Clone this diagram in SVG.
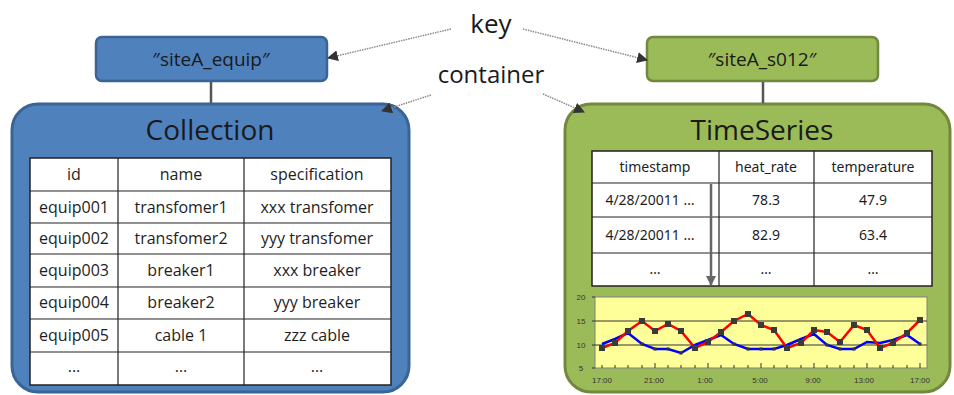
<svg xmlns="http://www.w3.org/2000/svg" width="954" height="395" viewBox="0 0 954 395">
<style>
.t{font-family:"Open Sans","Noto Sans",sans-serif;fill:#1a1a1a;text-anchor:middle}
.td{font-family:"Open Sans","Noto Sans",sans-serif;font-size:16px;fill:#1e1e1e;text-anchor:middle}
.tj{font-family:"Noto Sans","Liberation Sans",sans-serif;font-size:14px;fill:#1e1e1e;text-anchor:middle}
.ax{font-family:"Liberation Sans",sans-serif;font-size:8px;fill:#333;text-anchor:middle}
.grid{stroke:#222;stroke-width:1.2;fill:none}
.dot{stroke:#8a8a8a;stroke-width:1.5;stroke-dasharray:1.5 1;fill:none}
.stem{stroke:#555;stroke-width:2.5}
</style>
<defs>
<marker id="ah" viewBox="0 0 10 10" refX="9" refY="5" markerWidth="11" markerHeight="11" markerUnits="userSpaceOnUse" orient="auto">
<path d="M0,0 L10,5 L0,10 z" fill="#333"/>
</marker>
<marker id="ahd" viewBox="0 0 10 10" refX="9" refY="5" markerWidth="10" markerHeight="10" markerUnits="userSpaceOnUse" orient="auto">
<path d="M0,0 L10,5 L0,10 z" fill="#666"/>
</marker>
</defs>

<g id="label-key"><text class="t" x="491" y="33" font-size="26">key</text></g>
<g id="label-container"><text class="t" x="491" y="83" font-size="24">container</text></g>

<g id="key-equip">
<rect x="96" y="37" width="231" height="44" rx="6" fill="#4f81bd" stroke="#3a6494" stroke-width="2.5"/>
<text class="t" x="211" y="66" font-size="19">″siteA_equip″</text>
</g>

<g id="key-s012">
<rect x="647" y="37" width="231" height="44" rx="6" fill="#9bbb59" stroke="#71893f" stroke-width="2.5"/>
<text class="t" x="762" y="66" font-size="19">″siteA_s012″</text>
</g>

<g id="collection">
<rect x="12" y="104" width="397" height="288" rx="26" fill="#4f81bd" stroke="#3a6494" stroke-width="3"/>
<text class="t" x="210" y="140" font-size="28">Collection</text>
<rect x="30" y="158" width="361" height="227" fill="#fff" stroke="#222" stroke-width="1.5"/>
<g class="grid">
<line x1="118" y1="158" x2="118" y2="385"/>
<line x1="244" y1="158" x2="244" y2="385"/>
<line x1="30" y1="191" x2="391" y2="191"/>
<line x1="30" y1="223" x2="391" y2="223"/>
<line x1="30" y1="254" x2="391" y2="254"/>
<line x1="30" y1="287" x2="391" y2="287"/>
<line x1="30" y1="319" x2="391" y2="319"/>
<line x1="30" y1="352" x2="391" y2="352"/>
</g>
<text class="td" x="74" y="180">id</text>
<text class="td" x="181" y="180">name</text>
<text class="td" x="317" y="180">specification</text>
<text class="td" x="74" y="213">equip001</text>
<text class="td" x="181" y="213">transfomer1</text>
<text class="td" x="317" y="213">xxx transfomer</text>
<text class="td" x="74" y="244">equip002</text>
<text class="td" x="181" y="244">transfomer2</text>
<text class="td" x="317" y="244">yyy transfomer</text>
<text class="td" x="74" y="276">equip003</text>
<text class="td" x="181" y="276">breaker1</text>
<text class="td" x="317" y="276">xxx breaker</text>
<text class="td" x="74" y="308">equip004</text>
<text class="td" x="181" y="308">breaker2</text>
<text class="td" x="317" y="308">yyy breaker</text>
<text class="td" x="74" y="341">equip005</text>
<text class="td" x="181" y="341">cable 1</text>
<text class="td" x="317" y="341">zzz cable</text>
<text class="td" x="74" y="372">...</text>
<text class="td" x="181" y="372" font-size="10">…</text>
<text class="td" x="317" y="372" font-size="10">…</text>
</g>

<g id="timeseries">
<rect x="565" y="104" width="385" height="288" rx="26" fill="#9bbb59" stroke="#71893f" stroke-width="3"/>
<text class="t" x="762" y="140" font-size="28">TimeSeries</text>
<rect x="592" y="151" width="340" height="135" fill="#fff" stroke="#222" stroke-width="1.5"/>
<g class="grid">
<line x1="719" y1="151" x2="719" y2="286"/>
<line x1="814" y1="151" x2="814" y2="286"/>
<line x1="592" y1="183" x2="932" y2="183"/>
<line x1="592" y1="217" x2="932" y2="217"/>
<line x1="592" y1="253" x2="932" y2="253"/>
</g>
<text class="tj" x="655" y="172">timestamp</text>
<text class="tj" x="766" y="172">heat_rate</text>
<text class="tj" x="873" y="172">temperature</text>
<text class="tj" x="650" y="205">4/28/20011 …</text>
<text class="tj" x="766" y="205">78.3</text>
<text class="tj" x="873" y="205">47.9</text>
<text class="tj" x="650" y="240">4/28/20011 …</text>
<text class="tj" x="766" y="240">82.9</text>
<text class="tj" x="873" y="240">63.4</text>
<text class="tj" x="655" y="274" font-size="9">…</text>
<text class="tj" x="766" y="274" font-size="9">…</text>
<text class="tj" x="873" y="274" font-size="9">…</text>
<line x1="711" y1="184" x2="711" y2="285" stroke="#666" stroke-width="2.5" marker-end="url(#ahd)"/>

<rect x="595" y="297" width="332" height="71" fill="#ffff99" stroke="#808080" stroke-width="1"/>
<line x1="595" y1="321" x2="927" y2="321" stroke="#333" stroke-width="1"/>
<line x1="595" y1="345" x2="927" y2="345" stroke="#333" stroke-width="1"/>
<g stroke="#333" stroke-width="1">
<line x1="602" y1="368" x2="602" y2="365"/><line x1="615" y1="368" x2="615" y2="365"/><line x1="628" y1="368" x2="628" y2="365"/><line x1="642" y1="368" x2="642" y2="365"/><line x1="655" y1="368" x2="655" y2="363"/><line x1="668" y1="368" x2="668" y2="365"/><line x1="681" y1="368" x2="681" y2="365"/><line x1="695" y1="368" x2="695" y2="365"/><line x1="708" y1="368" x2="708" y2="363"/><line x1="721" y1="368" x2="721" y2="365"/><line x1="734" y1="368" x2="734" y2="365"/><line x1="748" y1="368" x2="748" y2="365"/><line x1="761" y1="368" x2="761" y2="363"/><line x1="774" y1="368" x2="774" y2="365"/><line x1="787" y1="368" x2="787" y2="365"/><line x1="801" y1="368" x2="801" y2="365"/><line x1="814" y1="368" x2="814" y2="363"/><line x1="827" y1="368" x2="827" y2="365"/><line x1="840" y1="368" x2="840" y2="365"/><line x1="854" y1="368" x2="854" y2="365"/><line x1="867" y1="368" x2="867" y2="363"/><line x1="880" y1="368" x2="880" y2="365"/><line x1="893" y1="368" x2="893" y2="365"/><line x1="907" y1="368" x2="907" y2="365"/><line x1="920" y1="368" x2="920" y2="363"/>
<line x1="592" y1="297" x2="595" y2="297"/><line x1="592" y1="321" x2="595" y2="321"/><line x1="592" y1="345" x2="595" y2="345"/><line x1="592" y1="368" x2="595" y2="368"/>
</g>
<text class="ax" x="581" y="300">20</text>
<text class="ax" x="581" y="324">15</text>
<text class="ax" x="581" y="348">10</text>
<text class="ax" x="581" y="371">5</text>
<text class="ax" x="602" y="383">17:00</text>
<text class="ax" x="654" y="383">21:00</text>
<text class="ax" x="705" y="383">1:00</text>
<text class="ax" x="760" y="383">5:00</text>
<text class="ax" x="813" y="383">9:00</text>
<text class="ax" x="864" y="383">13:00</text>
<text class="ax" x="920" y="383">17:00</text>
<polyline fill="none" stroke="#0000ff" stroke-width="2.5" points="602,344 615,339 628,333 642,344 655,349 668,349 681,353 695,345 708,340 721,335 734,344 748,349 761,349 774,349 787,345 801,339 814,334 827,345 840,349 854,349 867,342 880,343 893,340 907,335 920,344"/>
<polyline fill="none" stroke="#ff0000" stroke-width="2.5" points="602,348 615,343 628,331 642,321 655,331 668,324 681,331 695,348 708,342 721,332 734,321 748,314 761,325 774,330 787,348 801,343 814,330 827,332 840,342 854,325 867,330 880,348 893,343 907,333 920,320"/>
<g fill="#333">
<rect x="653.5" y="347.5" width="3" height="3"/><rect x="666.5" y="347.5" width="3" height="3"/><rect x="679.5" y="351.5" width="3" height="3"/><rect x="746.5" y="347.5" width="3" height="3"/><rect x="759.5" y="347.5" width="3" height="3"/><rect x="772.5" y="347.5" width="3" height="3"/><rect x="838.5" y="347.5" width="3" height="3"/><rect x="852.5" y="347.5" width="3" height="3"/><rect x="918.5" y="342.5" width="3" height="3"/><rect x="640.5" y="342.5" width="3" height="3"/><rect x="732.5" y="342.5" width="3" height="3"/><rect x="825.5" y="343.5" width="3" height="3"/>
</g>
<g fill="#3a3a3a">
<rect x="599" y="345" width="6" height="6"/><rect x="612" y="340" width="6" height="6"/><rect x="625" y="328" width="6" height="6"/><rect x="639" y="318" width="6" height="6"/><rect x="652" y="328" width="6" height="6"/><rect x="665" y="321" width="6" height="6"/><rect x="678" y="328" width="6" height="6"/><rect x="692" y="345" width="6" height="6"/><rect x="705" y="339" width="6" height="6"/><rect x="718" y="329" width="6" height="6"/><rect x="731" y="318" width="6" height="6"/><rect x="745" y="311" width="6" height="6"/><rect x="758" y="322" width="6" height="6"/><rect x="771" y="327" width="6" height="6"/><rect x="784" y="345" width="6" height="6"/><rect x="798" y="340" width="6" height="6"/><rect x="811" y="327" width="6" height="6"/><rect x="824" y="329" width="6" height="6"/><rect x="837" y="339" width="6" height="6"/><rect x="851" y="322" width="6" height="6"/><rect x="864" y="327" width="6" height="6"/><rect x="877" y="345" width="6" height="6"/><rect x="890" y="340" width="6" height="6"/><rect x="904" y="330" width="6" height="6"/><rect x="917" y="317" width="6" height="6"/>
</g>
</g>

<g id="connectors">
<line class="stem" x1="211" y1="82" x2="211" y2="103"/>
<line class="stem" x1="763" y1="82" x2="763" y2="103"/>
<line class="dot" x1="451" y1="29" x2="328" y2="58" marker-end="url(#ah)"/>
<line class="dot" x1="523" y1="29" x2="647" y2="60" marker-end="url(#ah)"/>
<line class="dot" x1="431" y1="95" x2="382" y2="111" marker-end="url(#ah)"/>
<line class="dot" x1="543" y1="94" x2="584" y2="112" marker-end="url(#ah)"/>
</g>
</svg>
